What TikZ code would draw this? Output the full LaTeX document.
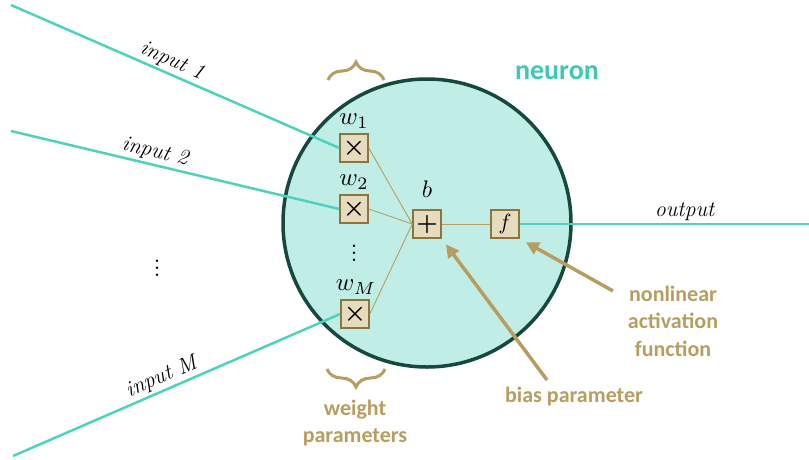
\documentclass[tikz,border=0pt]{standalone}
\usepackage{graphicx}
\usepackage{fontspec}
\setsansfont{Carlito}
\usetikzlibrary{arrows.meta,decorations.pathreplacing}
\definecolor{tealline}{RGB}{78,210,190}
\definecolor{circfill}{RGB}{192,238,231}
\definecolor{circdraw}{RGB}{22,72,62}
\definecolor{gold}{RGB}{184,157,96}
\definecolor{boxfill}{RGB}{231,219,190}
\definecolor{boxdraw}{RGB}{140,116,62}
\definecolor{neurontext}{RGB}{64,200,178}
\newcommand{\bigvdots}{\vbox{\baselineskip=7pt\lineskiplimit=0pt\hbox{.}\hbox{.}\hbox{.}}}
\newcommand{\bm}[2][2.3]{\scalebox{#1}{$#2$}}
\newcommand{\bbm}[2][2.3]{\scalebox{#1}{\boldmath$#2$}}
\begin{document}
\begin{tikzpicture}[x=1pt,y=-1pt,
  box/.style={draw=boxdraw,fill=boxfill,line width=1.5pt,minimum size=28pt,inner sep=0pt},
  inp/.style={draw=tealline,line width=2.5pt},
  thinline/.style={draw=gold,line width=0.9pt},
  lbl/.style={font=\fontsize{22}{26}\selectfont\itshape,inner sep=2pt},
  mlbl/.style={inner sep=0pt},
  dotlbl/.style={font=\fontsize{30}{30}\selectfont,inner sep=0pt},
  glbl/.style={text=gold,font=\sffamily\bfseries\fontsize{22}{27.5}\selectfont,align=center},
  garrow/.style={draw=gold,line width=3.5pt,-{Triangle[length=13pt,width=13pt]},shorten >=7pt},
  brc/.style={draw=gold,line width=3pt,decorate,decoration={brace,amplitude=18pt}}]
\useasboundingbox (0,0) rectangle (809,459);
\node[circle,draw=circdraw,fill=circfill,line width=3.5pt,minimum size=288pt,inner sep=0pt] (neuron) at (427,223) {};
\node[box] (w1) at (354,148) {\bbm[2.5]{\times}};
\node[box] (w2) at (354,209) {\bbm[2.5]{\times}};
\node[box] (wM) at (355,314) {\bbm[2.5]{\times}};
\node[box] (plus) at (427,224) {\bbm[2.4]{+}};
\node[box] (f) at (505,224) {\bm[2.2]{f}};
\node[mlbl] (lw1) at (354,121) {\bm[2.5]{w_1}};
\node[mlbl] (lw2) at (354,182) {\bm[2.5]{w_2}};
\node[mlbl] (lwM) at (356,287) {\bm[2.5]{w_M}};
\node[mlbl] (lb) at (427,189) {\bm[2.4]{b}};
\node[dotlbl] (dots1) at (354,253) {\bigvdots};
\node[dotlbl] (dots2) at (157,268) {\bigvdots};
\coordinate (i1) at (11,5);
\coordinate (i2) at (11,131);
\coordinate (iM) at (13,456);
\coordinate (out) at (809,224);
\draw[inp] (i1) -- node[lbl,sloped,above,pos=0.475] {input 1} (w1.west);
\draw[inp] (i2) -- node[lbl,sloped,above,pos=0.43] {input 2} (w2.west);
\draw[inp] (iM) -- node[lbl,sloped,above,pos=0.47] {input M} (wM.west);
\draw[inp] (f.east) -- node[lbl,above,pos=0.57] {output} (out);
\draw[thinline] (w1.east) -- (plus.west);
\draw[thinline] (w2.east) -- (plus.west);
\draw[thinline] (wM.east) -- (plus.west);
\draw[thinline] (plus.east) -- (f.west);
\coordinate (tb1) at (328,80);
\coordinate (tb2) at (384,80);
\draw[brc] (tb1) -- (tb2);
\coordinate (bb1) at (385,369);
\coordinate (bb2) at (327,369);
\draw[brc] (bb1) -- (bb2);
\node[glbl,text=neurontext,font=\sffamily\bfseries\fontsize{28}{32}\selectfont] (neuronlbl) at (557,73) {neuron};
\node[glbl] (biaslbl) at (574,397) {bias parameter};
\node[glbl] (actlbl) at (673,321) {nonlinear\\activation\\function};
\node[glbl] (wlbl) at (355,423) {weight\\parameters};
\coordinate (bt) at (547,380);
\draw[garrow] (bt) -- (plus.south east);
\coordinate (at) at (613,291);
\draw[garrow] (at) -- (f.south east);
\end{tikzpicture}
\end{document}
